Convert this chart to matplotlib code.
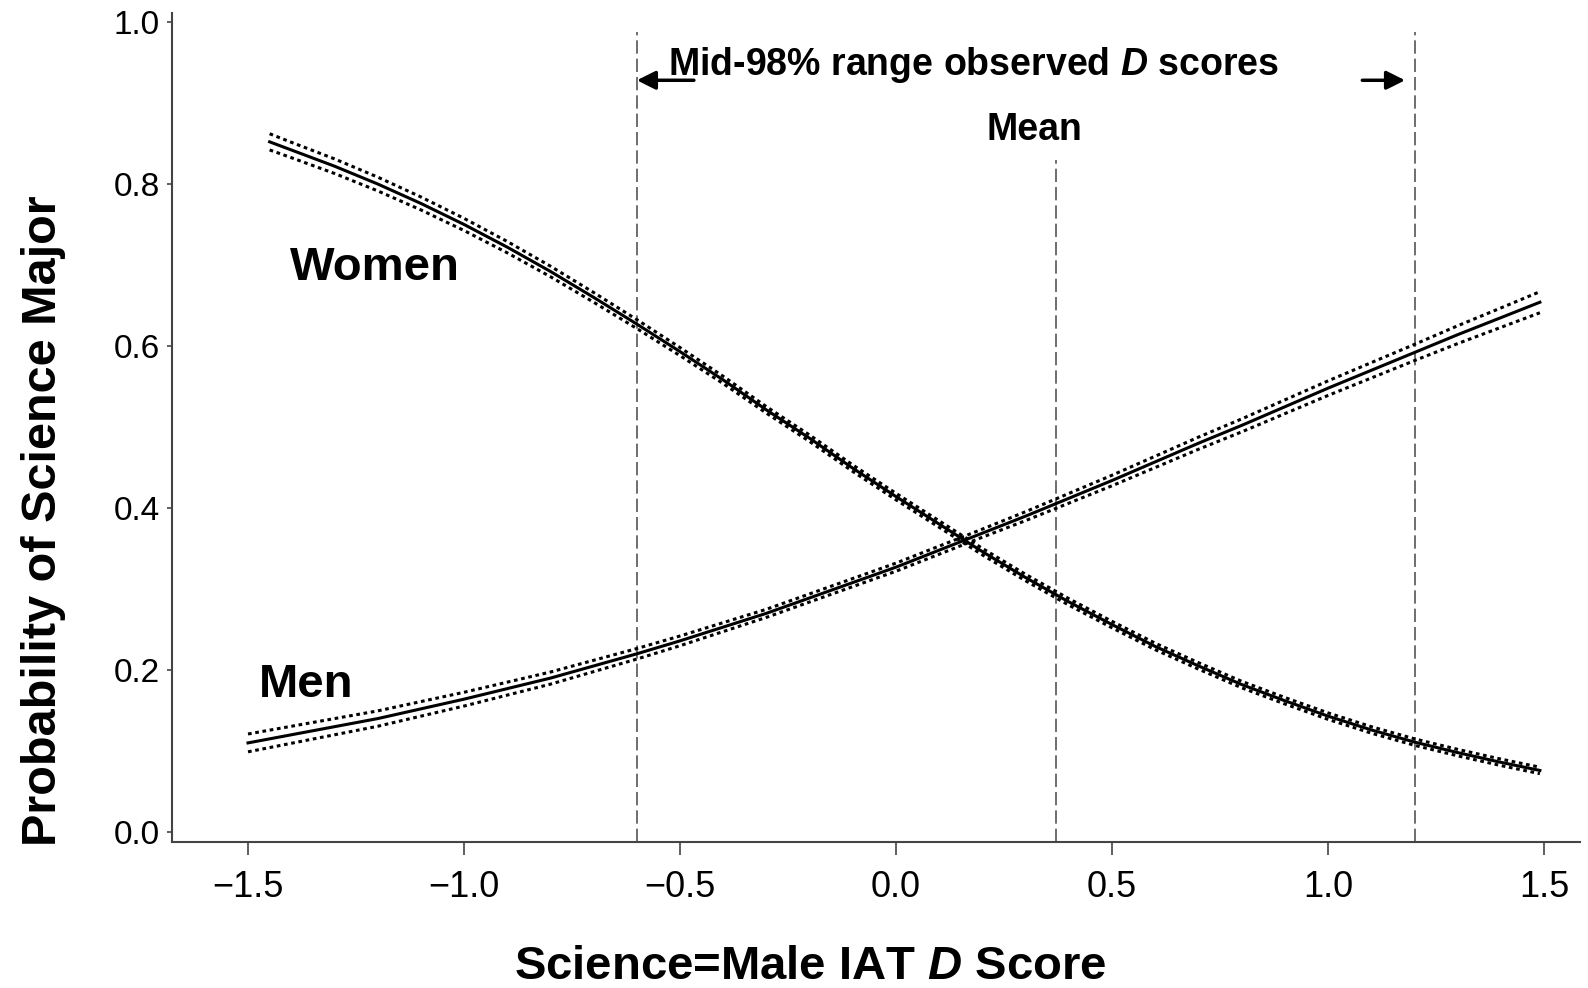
import matplotlib
matplotlib.use("Agg")
import numpy as np
import matplotlib.pyplot as plt

# predicted probability of a science major
women_x = [-1.45, -1.4, -1.3, -1.2, -1.1, -1.0, -0.9, -0.8, -0.7, -0.6, -0.5, -0.4, -0.3, -0.2, -0.1,
           0.0, 0.1, 0.2, 0.3, 0.4, 0.5, 0.6, 0.7, 0.8, 0.9, 1.0, 1.1, 1.2, 1.3, 1.4, 1.49]
women_p = [0.852, 0.842, 0.822, 0.800, 0.776, 0.750, 0.722, 0.692, 0.660, 0.627, 0.593, 0.558, 0.521,
           0.486, 0.449, 0.414, 0.380, 0.346, 0.314, 0.284, 0.256, 0.229, 0.205, 0.182, 0.162, 0.143,
           0.126, 0.111, 0.098, 0.086, 0.076]
women_ci = [0.010, 0.0095, 0.009, 0.0085, 0.008, 0.0075, 0.007, 0.0065, 0.006, 0.0055, 0.005, 0.0045,
            0.004, 0.004, 0.004, 0.004, 0.004, 0.004, 0.004, 0.004, 0.004, 0.004, 0.004, 0.004, 0.004,
            0.004, 0.004, 0.004, 0.004, 0.004, 0.004]

men_x = [-1.5, -1.4, -1.3, -1.2, -1.1, -1.0, -0.9, -0.8, -0.7, -0.6, -0.5, -0.4, -0.3, -0.2, -0.1,
         0.0, 0.1, 0.2, 0.3, 0.4, 0.5, 0.6, 0.7, 0.8, 0.9, 1.0, 1.1, 1.2, 1.3, 1.4, 1.49]
men_p = [0.110, 0.120, 0.130, 0.140, 0.152, 0.164, 0.177, 0.190, 0.205, 0.220, 0.236, 0.253, 0.270,
         0.289, 0.308, 0.327, 0.348, 0.369, 0.390, 0.412, 0.434, 0.457, 0.480, 0.502, 0.525, 0.548,
         0.570, 0.592, 0.614, 0.635, 0.654]
men_ci = [0.011, 0.0105, 0.010, 0.0095, 0.009, 0.0085, 0.008, 0.0075, 0.007, 0.0065, 0.006, 0.0055,
          0.005, 0.005, 0.005, 0.005, 0.005, 0.005, 0.0055, 0.006, 0.0065, 0.007, 0.0075, 0.008,
          0.0085, 0.009, 0.0095, 0.010, 0.011, 0.012, 0.013]

range_lo, range_hi, d_mean = -0.60, 1.20, 0.37
x_ticks = [-1.5, -1.0, -0.5, 0.0, 0.5, 1.0, 1.5]
y_ticks = [0.0, 0.2, 0.4, 0.6, 0.8, 1.0]

plt.rcParams['mathtext.fontset'] = 'custom'
plt.rcParams['mathtext.it'] = 'Liberation Sans:italic:bold'
bold = ['Liberation Sans', 'DejaVu Sans']

fig = plt.figure(figsize=(15.88, 9.88), dpi=100)
ax = fig.add_axes([0.1083, 0.1478, 0.8867, 0.839])

spine_col = '#444444'
for side in ['top', 'right']:
    ax.spines[side].set_visible(False)
for side in ['left', 'bottom']:
    ax.spines[side].set_color(spine_col)
    ax.spines[side].set_linewidth(1.5)

# curves with dotted confidence bands
for xs, ps, ci in [(women_x, women_p, women_ci), (men_x, men_p, men_ci)]:
    xs = np.array(xs)
    ps = np.array(ps)
    ci = np.array(ci)
    ax.plot(xs, ps, color='black', lw=2.2, zorder=3)
    for sgn in [1, -1]:
        ax.plot(xs, ps + sgn * ci, color='black', lw=2.2, ls=(0, (1.2, 1.2)), zorder=3)

# reference lines
ax.axvline(range_lo, ymin=0, ymax=0.977, color='#555555', lw=1.2, dashes=(8, 3))
ax.axvline(range_hi, ymin=0, ymax=0.977, color='#555555', lw=1.2, dashes=(8, 3))
ax.axvline(d_mean, ymin=0, ymax=0.823, color='#555555', lw=1.2, dashes=(8, 3))

arrow = dict(arrowstyle='-|>', mutation_scale=28, lw=2.5, color='black', shrinkA=0, shrinkB=0)
ax.annotate('', xy=(range_lo, 0.928), xytext=(-0.468, 0.928), arrowprops=arrow)
ax.annotate('', xy=(1.178, 0.928), xytext=(1.079, 0.928), arrowprops=arrow)

ax.text(0.179, 0.947, r'Mid-98% range observed $\mathit{D}$ scores', family=bold,
        fontweight='bold', fontsize=27, ha='center', va='center')
ax.text(0.319, 0.867, 'Mean', family=bold, fontweight='bold', fontsize=27,
        ha='center', va='center')
ax.text(-1.403, 0.681, 'Women', family=bold, fontweight='bold', fontsize=34, va='baseline')
ax.text(-1.475, 0.167, 'Men', family=bold, fontweight='bold', fontsize=34, va='baseline')

ax.set_xlim(-1.676, 1.583)
ax.set_ylim(-0.0123, 1.011)
ax.set_xticks(x_ticks)
ax.set_yticks(y_ticks)
ax.set_xticklabels(['\u22121.5', '\u22121.0', '\u22120.5', '0.0', '0.5', '1.0', '1.5'])
ax.set_yticklabels(['%.1f' % v for v in y_ticks])
ax.tick_params(axis='x', length=9.5, width=1.2, color=spine_col, pad=11, labelsize=26)
ax.tick_params(axis='y', length=3.6, width=1.2, color=spine_col, pad=5, labelsize=24)
for lab in ax.get_xticklabels() + ax.get_yticklabels():
    lab.set_family(bold)

ax.set_xlabel(r'Science=Male IAT $\mathit{D}$ Score', family=bold, fontweight='bold', fontsize=34)
ax.xaxis.set_label_coords(0.453, -0.151)
ax.xaxis.label.set_va('center')
ax.set_ylabel('Probability of Science Major', family=bold, fontweight='bold', fontsize=35)
ax.yaxis.set_label_coords(-0.0909, 0.388)
ax.yaxis.label.set_va('center')

fig.savefig('out.png', dpi=100)
